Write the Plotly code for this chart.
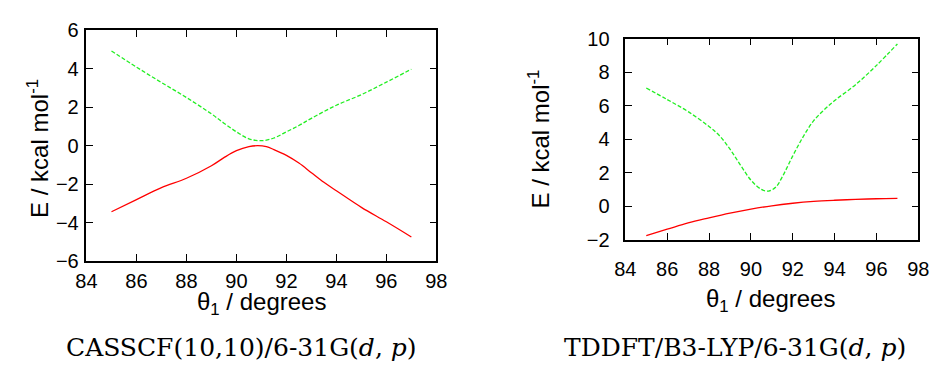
import plotly.graph_objects as go

# Scan angle theta_1 (degrees) and state energies (kcal/mol)
theta_cas = [85, 86, 87, 88, 89, 89.5, 90, 90.5, 90.85, 91.2, 91.5, 92, 92.5, 93, 93.5, 94, 95, 96, 97]
cas_lower = [-3.43, -2.80, -2.18, -1.69, -1.04, -0.62, -0.26, -0.05, 0.0, -0.05, -0.2, -0.5, -0.9, -1.4, -1.9, -2.34, -3.2, -3.95, -4.74]
theta_cas_up = [85, 86, 87, 88, 89, 89.5, 90, 90.5, 91, 91.5, 92, 92.5, 93, 94, 95, 96, 97]
cas_upper = [4.92, 4.08, 3.28, 2.5, 1.65, 1.17, 0.72, 0.36, 0.26, 0.4, 0.72, 1.05, 1.42, 2.1, 2.65, 3.3, 3.97]

theta_td = [85, 86, 87, 88, 89, 90, 91, 92, 93, 94, 95, 96, 97]
td_lower = [-1.76, -1.38, -1.0, -0.70, -0.42, -0.18, 0.02, 0.17, 0.28, 0.35, 0.40, 0.44, 0.46]
theta_td_up = [85, 86, 87, 88, 88.5, 89, 89.5, 90, 90.5, 90.85, 91.2, 91.5, 92, 92.5, 93, 93.5, 94, 95, 96, 97]
td_upper = [7.05, 6.36, 5.64, 4.75, 4.2, 3.4, 2.45, 1.55, 1.0, 0.9, 1.15, 1.75, 3.0, 4.15, 5.1, 5.75, 6.3, 7.25, 8.4, 9.68]

x_ticks = [84, 86, 88, 90, 92, 94, 96, 98]
y_ticks_cas = [-6, -4, -2, 0, 2, 4, 6]
y_ticks_td = [-2, 0, 2, 4, 6, 8, 10]

captions = ["CASSCF(10,10)/6-31G(<i>d</i>, <i>p</i>)", "TDDFT/B3-LYP/6-31G(<i>d</i>, <i>p</i>)"]

RED = "#ff0000"
GREEN = "#22ee22"
SANS = "Liberation Sans, Arial, sans-serif"
SERIF = "DejaVu Serif, serif"

W, H = 944, 379

fig = go.Figure()
fig.add_trace(go.Scatter(x=theta_cas, y=cas_lower, mode="lines", line=dict(color=RED, width=1.3, shape="spline"),
                         xaxis="x", yaxis="y", showlegend=False))
fig.add_trace(go.Scatter(x=theta_cas_up, y=cas_upper, mode="lines",
                         line=dict(color=GREEN, width=1.3, dash="4px,2px", shape="spline"),
                         xaxis="x", yaxis="y", showlegend=False))
fig.add_trace(go.Scatter(x=theta_td, y=td_lower, mode="lines", line=dict(color=RED, width=1.3, shape="spline"),
                         xaxis="x2", yaxis="y2", showlegend=False))
fig.add_trace(go.Scatter(x=theta_td_up, y=td_upper, mode="lines",
                         line=dict(color=GREEN, width=1.3, dash="4px,2px", shape="spline"),
                         xaxis="x2", yaxis="y2", showlegend=False))

def px_x(p):
    return p / W

def px_y(p):
    return 1 - p / H

axis_common = dict(showgrid=False, zeroline=False, showline=True, linecolor="black", linewidth=1.6,
                   mirror="ticks", ticks="inside", ticklen=7, tickwidth=1.4, tickcolor="black",
                   tickfont=dict(family=SANS, size=20, color="black"))

fig.update_layout(
    width=W, height=H,
    margin=dict(l=0, r=0, t=0, b=0),
    paper_bgcolor="white", plot_bgcolor="white",
    xaxis=dict(domain=[px_x(77.3), px_x(435.5)], range=[84, 98], tickvals=x_ticks, anchor="y",
               ticklabelstandoff=1, **axis_common),
    yaxis=dict(domain=[px_y(265.7), px_y(20.3)], range=[-6, 6], tickvals=y_ticks_cas, anchor="x",
               ticklabelstandoff=2, **axis_common),
    xaxis2=dict(domain=[px_x(629), px_x(929)], range=[84, 98], tickvals=x_ticks, anchor="y2",
                ticklabelstandoff=11, **axis_common),
    yaxis2=dict(domain=[px_y(242.7), px_y(29.3)], range=[-2, 10], tickvals=y_ticks_td, anchor="x2",
                ticklabelstandoff=10, **axis_common),
)

annotations = [
    dict(text="\u03b8<sub>1</sub> / degrees", x=px_x(256), y=px_y(310), font=dict(family=SANS, size=24)),
    dict(text="\u03b8<sub>1</sub> / degrees", x=px_x(778), y=px_y(307), font=dict(family=SANS, size=24)),
    dict(text="E / kcal mol<sup>-1</sup>", x=px_x(27), y=px_y(146), textangle=-90, font=dict(family=SANS, size=24)),
    dict(text="E / kcal mol<sup>-1</sup>", x=px_x(541), y=px_y(136), textangle=-90, font=dict(family=SANS, size=24)),
    dict(text=captions[0], x=px_x(236), y=px_y(357), font=dict(family=SERIF, size=25)),
    dict(text=captions[1], x=px_x(741), y=px_y(357), font=dict(family=SERIF, size=25)),
]
for a in annotations:
    a.update(xref="paper", yref="paper", showarrow=False, xanchor="center", yanchor="middle")
    a["font"]["color"] = "black"
fig.update_layout(annotations=annotations)

fig.write_html("out.html")
